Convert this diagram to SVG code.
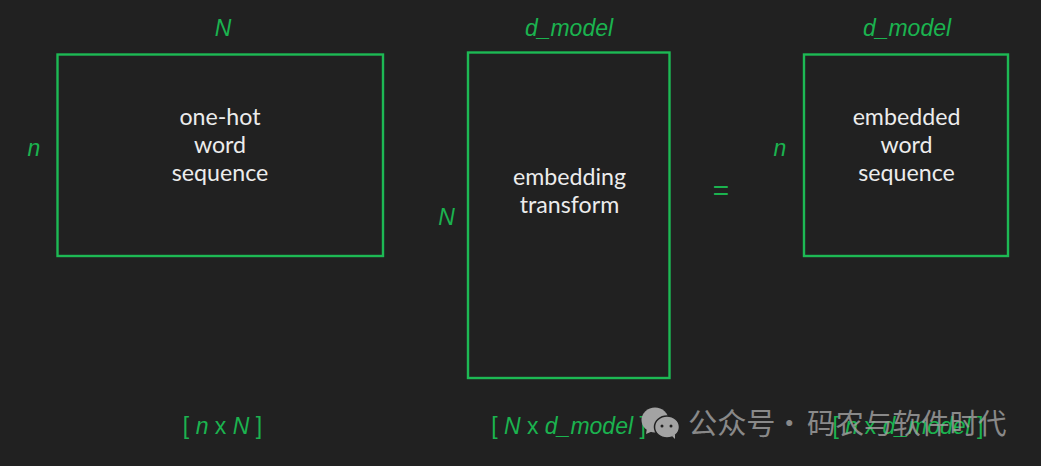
<svg xmlns="http://www.w3.org/2000/svg" width="1041" height="466" viewBox="0 0 1041 466">
<style>
.box{fill:none;stroke:#1db954;stroke-width:2.4}
.dim{font-family:"Liberation Sans",Arial,sans-serif;font-size:23px;font-style:italic;fill:#1bb34f;text-anchor:middle}
.lab{font-family:"Liberation Sans",Arial,sans-serif;font-size:23px;fill:#1bb34f;text-anchor:middle}
.txt{font-family:Lato,"Open Sans",sans-serif;font-size:23.2px;fill:#ececec;text-anchor:middle}
.wm{font-family:"Noto Sans CJK SC","Noto Sans",sans-serif;font-size:28.500px;fill:#a3a3a3;opacity:.8}
</style>
<rect width="1041" height="466" fill="#212121"/>
<g id="one-hot">
<rect class="box" x="57.500" y="54.500" width="325.500" height="201.500"/>
<text class="txt" x="220" y="125">one-hot</text>
<text class="txt" x="220" y="153">word</text>
<text class="txt" x="220" y="180.500">sequence</text>
<text class="dim" x="223" y="36">N</text>
<text class="dim" x="34" y="156">n</text>
<text class="lab" x="222.500" y="434">[ <tspan font-style="italic">n</tspan> x <tspan font-style="italic">N</tspan> ]</text>
</g>
<g id="embedding">
<rect class="box" x="468" y="52.500" width="201.500" height="325.500"/>
<text class="txt" x="569.500" y="185">embedding</text>
<text class="txt" x="569.500" y="213">transform</text>
<text class="dim" x="569" y="36">d_model</text>
<text class="dim" x="446.500" y="225">N</text>
<text class="lab" x="568.500" y="434">[ <tspan font-style="italic">N</tspan> x <tspan font-style="italic">d_model</tspan> ]</text>
</g>
<g id="equals"><text class="lab" x="721" y="200" style="font-size:28px">=</text></g>
<g id="embedded">
<rect class="box" x="804" y="54.500" width="204" height="201.500"/>
<text class="txt" x="906.500" y="125">embedded</text>
<text class="txt" x="906.500" y="153">word</text>
<text class="txt" x="906.500" y="180.500">sequence</text>
<text class="dim" x="907" y="36">d_model</text>
<text class="dim" x="780" y="156">n</text>
<text class="lab" x="908" y="434">[ <tspan font-style="italic">n</tspan> x <tspan font-style="italic">d_model</tspan> ]</text>
</g>
<g id="connectors"/>
<g id="watermark">
<ellipse cx="655" cy="420" rx="13.500" ry="12.500" fill="#a3a3a3"/>
<path d="M647 428l-1 6 7-3z" fill="#a3a3a3"/>
<ellipse cx="667" cy="427" rx="12.500" ry="11" fill="#a3a3a3" stroke="#212121" stroke-width="1.500"/>
<path d="M672 436l3 3 0-5z" fill="#a3a3a3"/>
<circle cx="662" cy="426" r="1.500" fill="#212121"/>
<circle cx="671" cy="426" r="1.500" fill="#212121"/>
<text class="wm" y="434"><tspan x="688" style="font-size:29.200px">公众号</tspan><tspan x="775">·</tspan><tspan x="807">码农与软件时代</tspan></text>
</g>
</svg>
